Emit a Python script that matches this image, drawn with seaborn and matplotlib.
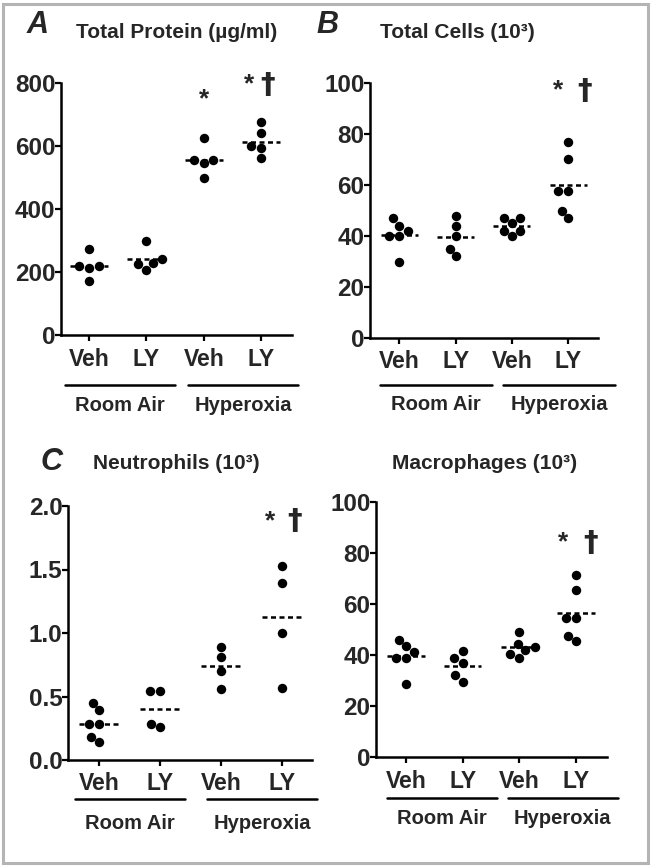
import numpy as np
import pandas as pd
import matplotlib
matplotlib.use("Agg")
import matplotlib.pyplot as plt
import matplotlib.transforms as mtransforms
from matplotlib.patches import Rectangle
import seaborn as sns

# groups
groups = ["RA Veh", "RA LY", "HX Veh", "HX LY"]
tick_labels = ["Veh", "LY", "Veh", "LY"]
group_names = ["Room Air", "Hyperoxia"]

# Total protein (ug/ml)
protein_ra_veh = [272, 219, 218, 213, 170]
protein_ra_ly = [298, 230, 240, 225, 207]
protein_hx_veh = [624, 555, 545, 556, 500]
protein_hx_ly = [676, 640, 600, 593, 562]

# Total cells (10^3)
cells_ra_veh = [47, 44, 40, 40, 42, 30]
cells_ra_ly = [48, 44, 40, 35, 32]
cells_hx_veh = [47, 47, 45, 42, 42, 40]
cells_hx_ly = [77, 70, 57.5, 57.5, 50, 47]

# Neutrophils (10^3)
neut_ra_veh = [0.45, 0.39, 0.28, 0.28, 0.18, 0.14]
neut_ra_ly = [0.54, 0.54, 0.28, 0.26]
neut_hx_veh = [0.89, 0.81, 0.70, 0.56]
neut_hx_ly = [1.53, 1.39, 1.00, 0.57]

# Macrophages (10^3)
mac_ra_veh = [46, 43.5, 41, 39, 39, 28.5]
mac_ra_ly = [41.5, 39, 37, 32, 29.5]
mac_hx_veh = [49, 44.5, 43, 42, 40.5, 39]
mac_hx_ly = [71.5, 65.4, 54.6, 54.6, 47.4, 45.4]

titles = ["Total Protein (µg/ml)", "Total Cells (10³)", "Neutrophils (10³)", "Macrophages (10³)"]
letters = ["A", "B", "C", ""]
yticks = [[0, 200, 400, 600, 800], [0, 20, 40, 60, 80, 100],
          [0.0, 0.5, 1.0, 1.5, 2.0], [0, 20, 40, 60, 80, 100]]
ytick_fmt = ["{:.0f}", "{:.0f}", "{:.1f}", "{:.0f}"]
# significance marks: (x, y, text)
sig_marks = [
    [(2, 747, "*"), (2.79, 795, "*"), (3.12, 795, "†")],
    [(2.82, 97, "*"), (3.3, 97, "†")],
    [(2.8, 1.88, "*"), (3.21, 1.88, "†")],
    [(2.77, 84, "*"), (3.26, 84, "†")],
]

panel_data = [
    [protein_ra_veh, protein_ra_ly, protein_hx_veh, protein_hx_ly],
    [cells_ra_veh, cells_ra_ly, cells_hx_veh, cells_hx_ly],
    [neut_ra_veh, neut_ra_ly, neut_hx_veh, neut_hx_ly],
    [mac_ra_veh, mac_ra_ly, mac_hx_veh, mac_hx_ly],
]

W, H = 651, 868
# axes boxes in pixels: left, top, right, bottom ; xlim
boxes = [
    (61, 83, 292, 335, (-0.49, 3.54)),
    (370, 83, 598, 338, (-0.52, 3.53)),
    (68, 506, 312, 760, (-0.51, 3.49)),
    (376, 502, 607, 757, (-0.53, 3.55)),
]
# underline spans and y positions (axes fraction)
underlines = [
    ((-0.42, 1.5), (1.73, 3.65), -0.198, -0.278),
    ((-0.34, 1.65), (1.85, 3.84), -0.184, -0.26),
    ((-0.39, 1.41), (1.77, 3.57), -0.154, -0.25),
    ((-0.34, 1.6), (1.8, 3.74), -0.161, -0.24),
]
title_pos = [(177, 32), (457, 32), (176, 463), (485, 463)]
letter_pos = [(38, 25), (327, 25), (52, 462), (0, 0)]

sns.set_theme(style="white")
plt.rcParams["font.family"] = ["Liberation Sans", "DejaVu Sans"]
title_family = ["Liberation Sans Narrow", "Liberation Sans", "DejaVu Sans"]

fig = plt.figure(figsize=(W / 100, H / 100), dpi=100)
fig.patch.set_facecolor("white")
fig.patches.append(Rectangle((3 / W, 5 / H), 645 / W, 859 / H, transform=fig.transFigure,
                             fill=False, edgecolor="#b4b4b4", linewidth=2.2))

for i in range(4):
    l, t, r, b, xl = boxes[i]
    ax = fig.add_axes([l / W, 1 - b / H, (r - l) / W, (b - t) / H])
    df = pd.DataFrame({
        "group": np.concatenate([[g] * len(v) for g, v in zip(groups, panel_data[i])]),
        "value": np.concatenate(panel_data[i]),
    })
    sns.swarmplot(data=df, x="group", y="value", order=groups, color="black",
                  size=6.8, linewidth=0, ax=ax)
    means = df.groupby("group")["value"].mean().reindex(groups)
    for k, m in enumerate(means):
        ax.hlines(m, k - 0.33, k + 0.33, colors="black", linewidth=1.8,
                  linestyles=(0, (2.0, 1.4)), zorder=1)

    ax.set_xlim(*xl)
    yt = yticks[i]
    ax.set_ylim(yt[0], yt[-1])
    ax.set_yticks(yt)
    ax.set_yticklabels([ytick_fmt[i].format(v) for v in yt], fontsize=17.5, fontweight="bold")
    ax.set_xticks(range(4))
    ax.set_xticklabels(tick_labels, fontsize=16.5, fontweight="bold")
    ax.set_xlabel("")
    ax.set_ylabel("")
    for s in ["top", "right"]:
        ax.spines[s].set_visible(False)
    for s in ["left", "bottom"]:
        ax.spines[s].set_linewidth(1.8)
        ax.spines[s].set_color("black")
    ax.tick_params(axis="both", direction="out", length=4, width=1.6, color="black",
                   left=True, bottom=True, pad=0)
    ax.tick_params(axis="x", pad=5)
    ax.set_facecolor("none")

    # group underline and labels
    s1, s2, yl, ytxt = underlines[i]
    trans = mtransforms.blended_transform_factory(ax.transData, ax.transAxes)
    for span, name in zip([s1, s2], group_names):
        ax.plot(span, [yl, yl], color="black", linewidth=1.8, transform=trans, clip_on=False)
        ax.text(np.mean(span), ytxt, name, transform=trans, ha="center", va="center",
                fontsize=14.5, fontweight="bold")

    for x, y, txt in sig_marks[i]:
        if txt == "†":
            ax.text(x, y, txt, ha="center", va="center", fontsize=21, fontweight="bold",
                    family=["DejaVu Sans"])
        else:
            ax.text(x, y, txt, ha="center", va="center", fontsize=19, fontweight="bold")

    tx, ty = title_pos[i]
    fig.text(tx / W, 1 - ty / H, titles[i], ha="center", va="center", fontsize=15,
             fontweight="bold", family=title_family)
    if letters[i]:
        lx, ly = letter_pos[i]
        fig.text(lx / W, 1 - ly / H, letters[i], ha="center", va="center", fontsize=22,
                 fontweight="bold", fontstyle="italic")

fig.savefig("out.png", dpi=100, facecolor="white")
